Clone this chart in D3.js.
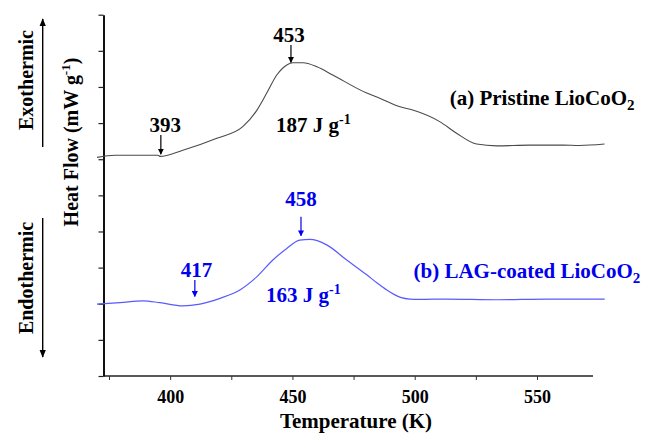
<!DOCTYPE html>
<html>
<head>
<meta charset="utf-8">
<script src="https://cdn.jsdelivr.net/npm/d3@7"></script>
<style>
  html, body { margin: 0; padding: 0; background: #fff; }
  svg { display: block; }
  text { font-family: "Liberation Serif", "Times New Roman", serif; font-weight: bold; }
</style>
</head>
<body>
<svg id="chart" width="656" height="433"></svg>
<script>
// ---- data ----
const pristineT   = [370.1, 377.4, 395.0, 395.8, 405.2, 419.1, 429.7, 435.5, 439.5, 443.6, 447.7, 450.2, 454.3, 460.0, 466.5, 480.4, 485.7, 494.0, 499.2, 510.2, 517.1, 525.3, 533.5, 547.0, 560.5, 567.4, 577.6];
const pristineHF  = [6.05, 6.11, 6.11, 6.08, 6.25, 6.58, 6.90, 7.36, 7.83, 8.33, 8.61, 8.67, 8.67, 8.56, 8.33, 7.83, 7.69, 7.45, 7.36, 7.04, 6.72, 6.42, 6.37, 6.39, 6.39, 6.38, 6.42];
const coatedT     = [370.1, 379.5, 388.9, 395.8, 405.2, 412.2, 420.4, 428.5, 435.5, 442.0, 447.7, 453.0, 457.1, 464.0, 472.2, 480.4, 484.5, 488.6, 491.5, 494.5, 498.0, 502.0, 513.1, 533.5, 554.0, 577.7];
const coatedHF    = [1.99, 2.03, 2.08, 2.03, 1.94, 1.99, 2.15, 2.38, 2.75, 3.21, 3.53, 3.76, 3.78, 3.63, 3.21, 2.80, 2.58, 2.38, 2.26, 2.17, 2.13, 2.12, 2.13, 2.11, 2.13, 2.13];
const xTicks      = [375, 400, 425, 450, 475, 500, 525, 550];
const xTickLabels = ["", "400", "", "450", "", "500", "", "550"];
const yTicks      = [0, 1, 2, 3, 4, 5, 6, 7, 8, 9, 10];
// annotations: label, arrow T, arrow top/bottom value, label value
const pristineMarks = [{label: "393", t: 396.2, y0: 6.67, y1: 6.14, ly: 6.76, lt: 398.0},
                       {label: "453", t: 449.4, y0: 9.16, y1: 8.68, ly: 9.25, lt: 448.6}];
const coatedMarks   = [{label: "417", t: 410.1, y0: 2.66, y1: 2.20, ly: 2.75, lt: 410.8},
                       {label: "458", t: 453.5, y0: 4.41, y1: 3.88, ly: 4.71, lt: 453.5}];
const enthalpyA = {t: 443.3, v: 6.76, main: "187 J g", sup: "-1"};
const enthalpyB = {t: 439.2, v: 2.06, main: "163 J g", sup: "-1"};
const legendA = {t: 514.3, v: 7.50, main: "(a) Pristine LioCoO", sub: "2"};
const legendB = {t: 499.5, v: 2.71, main: "(b) LAG-coated LioCoO", sub: "2"};

// ---- layout ----
const svg = d3.select("#chart");
const x = d3.scaleLinear().domain([372.75, 572.9]).range([103.5, 593]);
const y = d3.scaleLinear().domain([0, 10]).range([376, 14.7]);

const BLACK = "#000";
const LINEGRAY = "#4a4a4a";
const BLUE = "#0000ee";
const LINEBLUE = "#5a5aff";

svg.append("defs").html(`
  <marker id="ahK" viewBox="0 0 10 10" refX="9" refY="5" markerWidth="6" markerHeight="6" orient="auto" markerUnits="userSpaceOnUse">
    <path d="M0,0 L10,5 L0,10 z" fill="#000"/></marker>
  <marker id="ahB" viewBox="0 0 10 10" refX="9" refY="5" markerWidth="6" markerHeight="6" orient="auto" markerUnits="userSpaceOnUse">
    <path d="M0,0 L10,5 L0,10 z" fill="${BLUE}"/></marker>
  <marker id="ahBig" viewBox="0 0 10 10" refX="9" refY="5" markerWidth="8" markerHeight="8" orient="auto" markerUnits="userSpaceOnUse">
    <path d="M0,1 L10,5 L0,9 z" fill="#000"/></marker>
`);

// axes
const xAxis = d3.axisBottom(x).tickValues(xTicks).tickSize(4).tickSizeOuter(0)
  .tickFormat((d, i) => xTickLabels[i]);
const gx = svg.append("g").attr("transform", `translate(0,${y(0)})`).call(xAxis);
gx.select(".domain").attr("stroke", "#222").attr("stroke-width", 1.6)
  .attr("d", `M${x.range()[0]},0H${x.range()[1]}`);
gx.selectAll(".tick line").attr("stroke", "#333").attr("stroke-width", 1);
gx.selectAll(".tick text").attr("y", 14).attr("dy", "0.71em")
  .attr("font-size", 18).attr("fill", BLACK)
  .attr("font-family", "Liberation Serif").attr("font-weight", "bold");

const yAxis = d3.axisLeft(y).tickValues(yTicks).tickSize(5).tickSizeOuter(0).tickFormat("");
const gy = svg.append("g").attr("transform", `translate(${x.range()[0]},0)`).call(yAxis);
gy.select(".domain").attr("stroke", "#111").attr("stroke-width", 2);
gy.selectAll(".tick line").attr("stroke", "#222").attr("stroke-width", 1.2);

// curves
const line = d3.line().x(d => x(d[0])).y(d => y(d[1])).curve(d3.curveMonotoneX);
svg.append("path").datum(pristineT.map((t, i) => [t, pristineHF[i]]))
  .attr("d", line).attr("fill", "none").attr("stroke", LINEGRAY).attr("stroke-width", 1.1);
svg.append("path").datum(coatedT.map((t, i) => [t, coatedHF[i]]))
  .attr("d", line).attr("fill", "none").attr("stroke", LINEBLUE).attr("stroke-width", 1.2);

// annotations
function marks(list, color, marker) {
  list.forEach(m => {
    svg.append("line").attr("x1", x(m.t)).attr("x2", x(m.t))
      .attr("y1", y(m.y0)).attr("y2", y(m.y1))
      .attr("stroke", color).attr("stroke-width", 1.2).attr("marker-end", `url(#${marker})`);
    svg.append("text").attr("x", x(m.lt)).attr("y", y(m.ly)).attr("text-anchor", "middle")
      .attr("font-size", 21).attr("fill", color).text(m.label);
  });
}
marks(pristineMarks, BLACK, "ahK");
marks(coatedMarks, BLUE, "ahB");

function supText(o, color) {
  const t = svg.append("text").attr("x", x(o.t)).attr("y", y(o.v)).attr("font-size", 21).attr("fill", color);
  t.append("tspan").text(o.main);
  t.append("tspan").attr("font-size", 14).attr("dy", -8).text(o.sup);
}
supText(enthalpyA, BLACK);
supText(enthalpyB, BLUE);

function subText(o, color) {
  const t = svg.append("text").attr("x", x(o.t)).attr("y", y(o.v)).attr("font-size", 21).attr("fill", color);
  t.append("tspan").text(o.main);
  t.append("tspan").attr("font-size", 15).attr("dy", 5).text(o.sub);
}
subText(legendA, BLACK);
subText(legendB, BLUE);

// axis titles
svg.append("text").attr("x", 356).attr("y", 428).attr("text-anchor", "middle")
  .attr("font-size", 21).attr("fill", BLACK).text("Temperature (K)");

const yt = svg.append("text").attr("transform", "translate(78,142) rotate(-90)")
  .attr("text-anchor", "middle").attr("font-size", 20).attr("fill", BLACK);
yt.append("tspan").text("Heat Flow (mW g");
yt.append("tspan").attr("font-size", 13).attr("dy", -8).text("-1");
yt.append("tspan").attr("dy", 8).text(")");

svg.append("text").attr("transform", "translate(33,80) rotate(-90)")
  .attr("text-anchor", "middle").attr("font-size", 20).attr("fill", BLACK).text("Exothermic");
svg.append("text").attr("transform", "translate(33,278) rotate(-90)")
  .attr("text-anchor", "middle").attr("font-size", 20).attr("fill", BLACK).text("Endothermic");

svg.append("line").attr("x1", 42.7).attr("x2", 42.7).attr("y1", 147).attr("y2", 19)
  .attr("stroke", "#000").attr("stroke-width", 1.4).attr("marker-end", "url(#ahBig)");
svg.append("line").attr("x1", 42.7).attr("x2", 42.7).attr("y1", 218).attr("y2", 357)
  .attr("stroke", "#000").attr("stroke-width", 1.4).attr("marker-end", "url(#ahBig)");
</script>
</body>
</html>
